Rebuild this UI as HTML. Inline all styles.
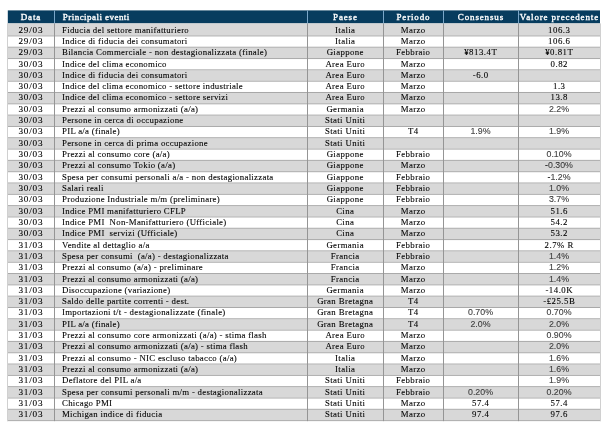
<!DOCTYPE html><html><head><meta charset="utf-8"><style>
html,body{margin:0;padding:0;background:#fff;width:606px;height:429px;overflow:hidden;}
body{position:relative;font-family:"Liberation Serif",serif;color:#000;}
.r{position:absolute;left:7.00px;width:593.00px;}
.c{position:absolute;top:0;white-space:pre;text-align:center;overflow:visible;}
.h{color:#fff;font-weight:normal;font-size:9.00px;letter-spacing:0.85px;-webkit-text-stroke:0.35px #fff}
.c.h{text-indent:0.85px}
.c.hev{letter-spacing:0.45px}
.d{font-size:8.80px;}
.pa{letter-spacing:0.35px;text-indent:0.35px}
.pe{letter-spacing:0.40px;text-indent:0.40px}
.g{background:#d8d8d8;}
.ev{font-size:8.80px;letter-spacing:0.28px}
.dt{letter-spacing:0.78px;font-size:9.20px;text-indent:0.78px}
.nm{letter-spacing:0.50px;text-indent:0.50px}
.c{filter:grayscale(1);}
.sn{font-family:"Liberation Sans",sans-serif;font-size:8.80px;color:#4a4a4a;letter-spacing:0.00px;text-indent:0.00px}
.d{-webkit-text-stroke:0.10px #000}
.hl{position:absolute;left:7.00px;width:593.00px;height:1px;background:#a8a8a8;}
.vl{position:absolute;width:1px;background:#959595;}
.hv{position:absolute;width:1px;background:#7aa6c8;}
#w{position:absolute;left:0;top:0;width:606px;height:429px;}
</style></head><body><div id="w">
<svg width="606" height="429" viewBox="0 0 606 429" style="position:absolute;left:0;top:0"><rect x="7.80" y="10.40" width="592.20" height="13.00" fill="#073c5e"/><rect x="7.00" y="23.40" width="593.00" height="12.02" fill="#d8d8d8"/><rect x="7.00" y="47.73" width="593.00" height="10.31" fill="#d8d8d8"/><rect x="7.00" y="70.36" width="593.00" height="10.31" fill="#d8d8d8"/><rect x="7.00" y="92.99" width="593.00" height="10.31" fill="#d8d8d8"/><rect x="7.00" y="115.62" width="593.00" height="10.31" fill="#d8d8d8"/><rect x="7.00" y="138.25" width="593.00" height="10.31" fill="#d8d8d8"/><rect x="7.00" y="160.88" width="593.00" height="10.31" fill="#d8d8d8"/><rect x="7.00" y="183.51" width="593.00" height="10.31" fill="#d8d8d8"/><rect x="7.00" y="206.14" width="593.00" height="10.31" fill="#d8d8d8"/><rect x="7.00" y="228.77" width="593.00" height="10.31" fill="#d8d8d8"/><rect x="7.00" y="251.40" width="593.00" height="10.31" fill="#d8d8d8"/><rect x="7.00" y="274.03" width="593.00" height="10.32" fill="#d8d8d8"/><rect x="7.00" y="296.66" width="593.00" height="10.31" fill="#d8d8d8"/><rect x="7.00" y="319.29" width="593.00" height="10.31" fill="#d8d8d8"/><rect x="7.00" y="341.92" width="593.00" height="10.31" fill="#d8d8d8"/><rect x="7.00" y="364.55" width="593.00" height="10.31" fill="#d8d8d8"/><rect x="7.00" y="387.18" width="593.00" height="10.31" fill="#d8d8d8"/><rect x="7.00" y="409.81" width="593.00" height="10.31" fill="#d8d8d8"/><rect x="7.00" y="35.41" width="594.00" height="1" fill="#a8a8a8"/><rect x="7.00" y="46.73" width="594.00" height="1" fill="#a8a8a8"/><rect x="7.00" y="58.05" width="594.00" height="1" fill="#a8a8a8"/><rect x="7.00" y="69.36" width="594.00" height="1" fill="#a8a8a8"/><rect x="7.00" y="80.67" width="594.00" height="1" fill="#a8a8a8"/><rect x="7.00" y="91.99" width="594.00" height="1" fill="#a8a8a8"/><rect x="7.00" y="103.31" width="594.00" height="1" fill="#a8a8a8"/><rect x="7.00" y="114.62" width="594.00" height="1" fill="#a8a8a8"/><rect x="7.00" y="125.94" width="594.00" height="1" fill="#a8a8a8"/><rect x="7.00" y="137.25" width="594.00" height="1" fill="#a8a8a8"/><rect x="7.00" y="148.56" width="594.00" height="1" fill="#a8a8a8"/><rect x="7.00" y="159.88" width="594.00" height="1" fill="#a8a8a8"/><rect x="7.00" y="171.19" width="594.00" height="1" fill="#a8a8a8"/><rect x="7.00" y="182.51" width="594.00" height="1" fill="#a8a8a8"/><rect x="7.00" y="193.82" width="594.00" height="1" fill="#a8a8a8"/><rect x="7.00" y="205.14" width="594.00" height="1" fill="#a8a8a8"/><rect x="7.00" y="216.45" width="594.00" height="1" fill="#a8a8a8"/><rect x="7.00" y="227.77" width="594.00" height="1" fill="#a8a8a8"/><rect x="7.00" y="239.08" width="594.00" height="1" fill="#a8a8a8"/><rect x="7.00" y="250.40" width="594.00" height="1" fill="#a8a8a8"/><rect x="7.00" y="261.71" width="594.00" height="1" fill="#a8a8a8"/><rect x="7.00" y="273.03" width="594.00" height="1" fill="#a8a8a8"/><rect x="7.00" y="284.35" width="594.00" height="1" fill="#a8a8a8"/><rect x="7.00" y="295.66" width="594.00" height="1" fill="#a8a8a8"/><rect x="7.00" y="306.98" width="594.00" height="1" fill="#a8a8a8"/><rect x="7.00" y="318.29" width="594.00" height="1" fill="#a8a8a8"/><rect x="7.00" y="329.61" width="594.00" height="1" fill="#a8a8a8"/><rect x="7.00" y="340.92" width="594.00" height="1" fill="#a8a8a8"/><rect x="7.00" y="352.24" width="594.00" height="1" fill="#a8a8a8"/><rect x="7.00" y="363.55" width="594.00" height="1" fill="#a8a8a8"/><rect x="7.00" y="374.87" width="594.00" height="1" fill="#a8a8a8"/><rect x="7.00" y="386.18" width="594.00" height="1" fill="#a8a8a8"/><rect x="7.00" y="397.50" width="594.00" height="1" fill="#a8a8a8"/><rect x="7.00" y="408.81" width="594.00" height="1" fill="#a8a8a8"/><rect x="7.00" y="420.12" width="594.00" height="1" fill="#a8a8a8"/><rect x="7.00" y="23.40" width="1" height="397.73" fill="#d0d0d0"/><rect x="54.00" y="23.40" width="1" height="397.73" fill="#959595"/><rect x="54.00" y="10.40" width="1" height="13.00" fill="#7aa6c8"/><rect x="307.00" y="23.40" width="1" height="397.73" fill="#959595"/><rect x="307.00" y="10.40" width="1" height="13.00" fill="#7aa6c8"/><rect x="383.00" y="23.40" width="1" height="397.73" fill="#959595"/><rect x="383.00" y="10.40" width="1" height="13.00" fill="#7aa6c8"/><rect x="443.00" y="23.40" width="1" height="397.73" fill="#959595"/><rect x="443.00" y="10.40" width="1" height="13.00" fill="#7aa6c8"/><rect x="518.00" y="23.40" width="1" height="397.73" fill="#959595"/><rect x="518.00" y="10.40" width="1" height="13.00" fill="#7aa6c8"/><rect x="600.00" y="23.40" width="1" height="397.73" fill="#d0d0d0"/></svg>
<div class="c h" style="left:7.00px;width:47.00px;top:11.00px;line-height:13.00px;height:13.00px">Data</div><div class="c h hev" style="left:54.00px;width:253.00px;text-align:left;padding-left:8.00px;box-sizing:border-box;top:11.00px;line-height:13.00px;height:13.00px">Principali eventi</div><div class="c h" style="left:307.00px;width:76.00px;top:11.00px;line-height:13.00px;height:13.00px">Paese</div><div class="c h" style="left:383.00px;width:60.00px;top:11.00px;line-height:13.00px;height:13.00px">Periodo</div><div class="c h" style="left:443.00px;width:75.00px;top:11.00px;line-height:13.00px;height:13.00px">Consensus</div><div class="c h" style="left:518.00px;width:82.00px;top:11.00px;line-height:13.00px;height:13.00px">Valore precedente</div>
<div class="c d dt" style="left:7.00px;width:47.00px;top:24.60px;line-height:11.31px;height:11.31px">29/03</div><div class="c d ev" style="left:54.00px;width:253.00px;text-align:left;padding-left:8.00px;box-sizing:border-box;top:24.60px;line-height:11.31px;height:11.31px">Fiducia del settore manifatturiero</div><div class="c d pa" style="left:307.00px;width:76.00px;top:24.60px;line-height:11.31px;height:11.31px">Italia</div><div class="c d pe" style="left:383.00px;width:60.00px;top:24.60px;line-height:11.31px;height:11.31px">Marzo</div><div class="c d nm" style="left:518.00px;width:82.00px;top:24.60px;line-height:11.31px;height:11.31px">106.3</div>
<div class="c d dt" style="left:7.00px;width:47.00px;top:35.91px;line-height:11.31px;height:11.31px">29/03</div><div class="c d ev" style="left:54.00px;width:253.00px;text-align:left;padding-left:8.00px;box-sizing:border-box;top:35.91px;line-height:11.31px;height:11.31px">Indice di fiducia dei consumatori</div><div class="c d pa" style="left:307.00px;width:76.00px;top:35.91px;line-height:11.31px;height:11.31px">Italia</div><div class="c d pe" style="left:383.00px;width:60.00px;top:35.91px;line-height:11.31px;height:11.31px">Marzo</div><div class="c d nm" style="left:518.00px;width:82.00px;top:35.91px;line-height:11.31px;height:11.31px">106.6</div>
<div class="c d dt" style="left:7.00px;width:47.00px;top:47.23px;line-height:11.31px;height:11.31px">29/03</div><div class="c d ev" style="left:54.00px;width:253.00px;text-align:left;padding-left:8.00px;box-sizing:border-box;top:47.23px;line-height:11.31px;height:11.31px">Bilancia Commerciale - non destagionalizzata (finale)</div><div class="c d pa" style="left:307.00px;width:76.00px;top:47.23px;line-height:11.31px;height:11.31px">Giappone</div><div class="c d pe" style="left:383.00px;width:60.00px;top:47.23px;line-height:11.31px;height:11.31px">Febbraio</div><div class="c d nm" style="left:443.00px;width:75.00px;top:47.23px;line-height:11.31px;height:11.31px">¥813.4T</div><div class="c d nm" style="left:518.00px;width:82.00px;top:47.23px;line-height:11.31px;height:11.31px">¥0.81T</div>
<div class="c d dt" style="left:7.00px;width:47.00px;top:58.55px;line-height:11.31px;height:11.31px">30/03</div><div class="c d ev" style="left:54.00px;width:253.00px;text-align:left;padding-left:8.00px;box-sizing:border-box;top:58.55px;line-height:11.31px;height:11.31px">Indice del clima economico</div><div class="c d pa" style="left:307.00px;width:76.00px;top:58.55px;line-height:11.31px;height:11.31px">Area Euro</div><div class="c d pe" style="left:383.00px;width:60.00px;top:58.55px;line-height:11.31px;height:11.31px">Marzo</div><div class="c d nm" style="left:518.00px;width:82.00px;top:58.55px;line-height:11.31px;height:11.31px">0.82</div>
<div class="c d dt" style="left:7.00px;width:47.00px;top:69.86px;line-height:11.31px;height:11.31px">30/03</div><div class="c d ev" style="left:54.00px;width:253.00px;text-align:left;padding-left:8.00px;box-sizing:border-box;top:69.86px;line-height:11.31px;height:11.31px">Indice di fiducia dei consumatori</div><div class="c d pa" style="left:307.00px;width:76.00px;top:69.86px;line-height:11.31px;height:11.31px">Area Euro</div><div class="c d pe" style="left:383.00px;width:60.00px;top:69.86px;line-height:11.31px;height:11.31px">Marzo</div><div class="c d nm" style="left:443.00px;width:75.00px;top:69.86px;line-height:11.31px;height:11.31px">-6.0</div>
<div class="c d dt" style="left:7.00px;width:47.00px;top:81.17px;line-height:11.31px;height:11.31px">30/03</div><div class="c d ev" style="left:54.00px;width:253.00px;text-align:left;padding-left:8.00px;box-sizing:border-box;top:81.17px;line-height:11.31px;height:11.31px">Indice del clima economico - settore industriale</div><div class="c d pa" style="left:307.00px;width:76.00px;top:81.17px;line-height:11.31px;height:11.31px">Area Euro</div><div class="c d pe" style="left:383.00px;width:60.00px;top:81.17px;line-height:11.31px;height:11.31px">Marzo</div><div class="c d nm" style="left:518.00px;width:82.00px;top:81.17px;line-height:11.31px;height:11.31px">1.3</div>
<div class="c d dt" style="left:7.00px;width:47.00px;top:92.49px;line-height:11.31px;height:11.31px">30/03</div><div class="c d ev" style="left:54.00px;width:253.00px;text-align:left;padding-left:8.00px;box-sizing:border-box;top:92.49px;line-height:11.31px;height:11.31px">Indice del clima economico - settore servizi</div><div class="c d pa" style="left:307.00px;width:76.00px;top:92.49px;line-height:11.31px;height:11.31px">Area Euro</div><div class="c d pe" style="left:383.00px;width:60.00px;top:92.49px;line-height:11.31px;height:11.31px">Marzo</div><div class="c d nm" style="left:518.00px;width:82.00px;top:92.49px;line-height:11.31px;height:11.31px">13.8</div>
<div class="c d dt" style="left:7.00px;width:47.00px;top:103.81px;line-height:11.31px;height:11.31px">30/03</div><div class="c d ev" style="left:54.00px;width:253.00px;text-align:left;padding-left:8.00px;box-sizing:border-box;top:103.81px;line-height:11.31px;height:11.31px">Prezzi al consumo armonizzati (a/a)</div><div class="c d pa" style="left:307.00px;width:76.00px;top:103.81px;line-height:11.31px;height:11.31px">Germania</div><div class="c d pe" style="left:383.00px;width:60.00px;top:103.81px;line-height:11.31px;height:11.31px">Marzo</div><div class="c d sn" style="left:518.00px;width:82.00px;top:103.81px;line-height:11.31px;height:11.31px">2.2%</div>
<div class="c d dt" style="left:7.00px;width:47.00px;top:115.12px;line-height:11.31px;height:11.31px">30/03</div><div class="c d ev" style="left:54.00px;width:253.00px;text-align:left;padding-left:8.00px;box-sizing:border-box;top:115.12px;line-height:11.31px;height:11.31px">Persone in cerca di occupazione</div><div class="c d pa" style="left:307.00px;width:76.00px;top:115.12px;line-height:11.31px;height:11.31px">Stati Uniti</div>
<div class="c d dt" style="left:7.00px;width:47.00px;top:126.44px;line-height:11.31px;height:11.31px">30/03</div><div class="c d ev" style="left:54.00px;width:253.00px;text-align:left;padding-left:8.00px;box-sizing:border-box;top:126.44px;line-height:11.31px;height:11.31px">PIL a/a (finale)</div><div class="c d pa" style="left:307.00px;width:76.00px;top:126.44px;line-height:11.31px;height:11.31px">Stati Uniti</div><div class="c d pe" style="left:383.00px;width:60.00px;top:126.44px;line-height:11.31px;height:11.31px">T4</div><div class="c d sn" style="left:443.00px;width:75.00px;top:126.44px;line-height:11.31px;height:11.31px">1.9%</div><div class="c d sn" style="left:518.00px;width:82.00px;top:126.44px;line-height:11.31px;height:11.31px">1.9%</div>
<div class="c d dt" style="left:7.00px;width:47.00px;top:137.75px;line-height:11.31px;height:11.31px">30/03</div><div class="c d ev" style="left:54.00px;width:253.00px;text-align:left;padding-left:8.00px;box-sizing:border-box;top:137.75px;line-height:11.31px;height:11.31px">Persone in cerca di prima occupazione</div><div class="c d pa" style="left:307.00px;width:76.00px;top:137.75px;line-height:11.31px;height:11.31px">Stati Uniti</div>
<div class="c d dt" style="left:7.00px;width:47.00px;top:149.06px;line-height:11.31px;height:11.31px">30/03</div><div class="c d ev" style="left:54.00px;width:253.00px;text-align:left;padding-left:8.00px;box-sizing:border-box;top:149.06px;line-height:11.31px;height:11.31px">Prezzi al consumo core (a/a)</div><div class="c d pa" style="left:307.00px;width:76.00px;top:149.06px;line-height:11.31px;height:11.31px">Giappone</div><div class="c d pe" style="left:383.00px;width:60.00px;top:149.06px;line-height:11.31px;height:11.31px">Febbraio</div><div class="c d sn" style="left:518.00px;width:82.00px;top:149.06px;line-height:11.31px;height:11.31px">0.10%</div>
<div class="c d dt" style="left:7.00px;width:47.00px;top:160.38px;line-height:11.31px;height:11.31px">30/03</div><div class="c d ev" style="left:54.00px;width:253.00px;text-align:left;padding-left:8.00px;box-sizing:border-box;top:160.38px;line-height:11.31px;height:11.31px">Prezzi al consumo Tokio (a/a)</div><div class="c d pa" style="left:307.00px;width:76.00px;top:160.38px;line-height:11.31px;height:11.31px">Giappone</div><div class="c d pe" style="left:383.00px;width:60.00px;top:160.38px;line-height:11.31px;height:11.31px">Marzo</div><div class="c d sn" style="left:518.00px;width:82.00px;top:160.38px;line-height:11.31px;height:11.31px">-0.30%</div>
<div class="c d dt" style="left:7.00px;width:47.00px;top:171.69px;line-height:11.31px;height:11.31px">30/03</div><div class="c d ev" style="left:54.00px;width:253.00px;text-align:left;padding-left:8.00px;box-sizing:border-box;top:171.69px;line-height:11.31px;height:11.31px">Spesa per consumi personali a/a - non destagionalizzata</div><div class="c d pa" style="left:307.00px;width:76.00px;top:171.69px;line-height:11.31px;height:11.31px">Giappone</div><div class="c d pe" style="left:383.00px;width:60.00px;top:171.69px;line-height:11.31px;height:11.31px">Febbraio</div><div class="c d sn" style="left:518.00px;width:82.00px;top:171.69px;line-height:11.31px;height:11.31px">-1.2%</div>
<div class="c d dt" style="left:7.00px;width:47.00px;top:183.01px;line-height:11.31px;height:11.31px">30/03</div><div class="c d ev" style="left:54.00px;width:253.00px;text-align:left;padding-left:8.00px;box-sizing:border-box;top:183.01px;line-height:11.31px;height:11.31px">Salari reali</div><div class="c d pa" style="left:307.00px;width:76.00px;top:183.01px;line-height:11.31px;height:11.31px">Giappone</div><div class="c d pe" style="left:383.00px;width:60.00px;top:183.01px;line-height:11.31px;height:11.31px">Febbraio</div><div class="c d sn" style="left:518.00px;width:82.00px;top:183.01px;line-height:11.31px;height:11.31px">1.0%</div>
<div class="c d dt" style="left:7.00px;width:47.00px;top:194.32px;line-height:11.31px;height:11.31px">30/03</div><div class="c d ev" style="left:54.00px;width:253.00px;text-align:left;padding-left:8.00px;box-sizing:border-box;top:194.32px;line-height:11.31px;height:11.31px">Produzione Industriale m/m (preliminare)</div><div class="c d pa" style="left:307.00px;width:76.00px;top:194.32px;line-height:11.31px;height:11.31px">Giappone</div><div class="c d pe" style="left:383.00px;width:60.00px;top:194.32px;line-height:11.31px;height:11.31px">Febbraio</div><div class="c d sn" style="left:518.00px;width:82.00px;top:194.32px;line-height:11.31px;height:11.31px">3.7%</div>
<div class="c d dt" style="left:7.00px;width:47.00px;top:205.64px;line-height:11.31px;height:11.31px">30/03</div><div class="c d ev" style="left:54.00px;width:253.00px;text-align:left;padding-left:8.00px;box-sizing:border-box;top:205.64px;line-height:11.31px;height:11.31px">Indice PMI manifatturiero CFLP</div><div class="c d pa" style="left:307.00px;width:76.00px;top:205.64px;line-height:11.31px;height:11.31px">Cina</div><div class="c d pe" style="left:383.00px;width:60.00px;top:205.64px;line-height:11.31px;height:11.31px">Marzo</div><div class="c d nm" style="left:518.00px;width:82.00px;top:205.64px;line-height:11.31px;height:11.31px">51.6</div>
<div class="c d dt" style="left:7.00px;width:47.00px;top:216.95px;line-height:11.31px;height:11.31px">30/03</div><div class="c d ev" style="left:54.00px;width:253.00px;text-align:left;padding-left:8.00px;box-sizing:border-box;top:216.95px;line-height:11.31px;height:11.31px">Indice PMI  Non-Manifatturiero (Ufficiale)</div><div class="c d pa" style="left:307.00px;width:76.00px;top:216.95px;line-height:11.31px;height:11.31px">Cina</div><div class="c d pe" style="left:383.00px;width:60.00px;top:216.95px;line-height:11.31px;height:11.31px">Marzo</div><div class="c d nm" style="left:518.00px;width:82.00px;top:216.95px;line-height:11.31px;height:11.31px">54.2</div>
<div class="c d dt" style="left:7.00px;width:47.00px;top:228.27px;line-height:11.31px;height:11.31px">30/03</div><div class="c d ev" style="left:54.00px;width:253.00px;text-align:left;padding-left:8.00px;box-sizing:border-box;top:228.27px;line-height:11.31px;height:11.31px">Indice PMI  servizi (Ufficiale)</div><div class="c d pa" style="left:307.00px;width:76.00px;top:228.27px;line-height:11.31px;height:11.31px">Cina</div><div class="c d pe" style="left:383.00px;width:60.00px;top:228.27px;line-height:11.31px;height:11.31px">Marzo</div><div class="c d nm" style="left:518.00px;width:82.00px;top:228.27px;line-height:11.31px;height:11.31px">53.2</div>
<div class="c d dt" style="left:7.00px;width:47.00px;top:239.58px;line-height:11.31px;height:11.31px">31/03</div><div class="c d ev" style="left:54.00px;width:253.00px;text-align:left;padding-left:8.00px;box-sizing:border-box;top:239.58px;line-height:11.31px;height:11.31px">Vendite al dettaglio a/a</div><div class="c d pa" style="left:307.00px;width:76.00px;top:239.58px;line-height:11.31px;height:11.31px">Germania</div><div class="c d pe" style="left:383.00px;width:60.00px;top:239.58px;line-height:11.31px;height:11.31px">Febbraio</div><div class="c d nm" style="left:518.00px;width:82.00px;top:239.58px;line-height:11.31px;height:11.31px">2.7% R</div>
<div class="c d dt" style="left:7.00px;width:47.00px;top:250.90px;line-height:11.31px;height:11.31px">31/03</div><div class="c d ev" style="left:54.00px;width:253.00px;text-align:left;padding-left:8.00px;box-sizing:border-box;top:250.90px;line-height:11.31px;height:11.31px">Spesa per consumi  (a/a) - destagionalizzata</div><div class="c d pa" style="left:307.00px;width:76.00px;top:250.90px;line-height:11.31px;height:11.31px">Francia</div><div class="c d pe" style="left:383.00px;width:60.00px;top:250.90px;line-height:11.31px;height:11.31px">Febbraio</div><div class="c d sn" style="left:518.00px;width:82.00px;top:250.90px;line-height:11.31px;height:11.31px">1.4%</div>
<div class="c d dt" style="left:7.00px;width:47.00px;top:262.21px;line-height:11.31px;height:11.31px">31/03</div><div class="c d ev" style="left:54.00px;width:253.00px;text-align:left;padding-left:8.00px;box-sizing:border-box;top:262.21px;line-height:11.31px;height:11.31px">Prezzi al consumo (a/a) - preliminare</div><div class="c d pa" style="left:307.00px;width:76.00px;top:262.21px;line-height:11.31px;height:11.31px">Francia</div><div class="c d pe" style="left:383.00px;width:60.00px;top:262.21px;line-height:11.31px;height:11.31px">Marzo</div><div class="c d sn" style="left:518.00px;width:82.00px;top:262.21px;line-height:11.31px;height:11.31px">1.2%</div>
<div class="c d dt" style="left:7.00px;width:47.00px;top:273.53px;line-height:11.31px;height:11.31px">31/03</div><div class="c d ev" style="left:54.00px;width:253.00px;text-align:left;padding-left:8.00px;box-sizing:border-box;top:273.53px;line-height:11.31px;height:11.31px">Prezzi al consumo armonizzati (a/a)</div><div class="c d pa" style="left:307.00px;width:76.00px;top:273.53px;line-height:11.31px;height:11.31px">Francia</div><div class="c d pe" style="left:383.00px;width:60.00px;top:273.53px;line-height:11.31px;height:11.31px">Marzo</div><div class="c d sn" style="left:518.00px;width:82.00px;top:273.53px;line-height:11.31px;height:11.31px">1.4%</div>
<div class="c d dt" style="left:7.00px;width:47.00px;top:284.85px;line-height:11.31px;height:11.31px">31/03</div><div class="c d ev" style="left:54.00px;width:253.00px;text-align:left;padding-left:8.00px;box-sizing:border-box;top:284.85px;line-height:11.31px;height:11.31px">Disoccupazione (variazione)</div><div class="c d pa" style="left:307.00px;width:76.00px;top:284.85px;line-height:11.31px;height:11.31px">Germania</div><div class="c d pe" style="left:383.00px;width:60.00px;top:284.85px;line-height:11.31px;height:11.31px">Marzo</div><div class="c d nm" style="left:518.00px;width:82.00px;top:284.85px;line-height:11.31px;height:11.31px">-14.0K</div>
<div class="c d dt" style="left:7.00px;width:47.00px;top:296.16px;line-height:11.31px;height:11.31px">31/03</div><div class="c d ev" style="left:54.00px;width:253.00px;text-align:left;padding-left:8.00px;box-sizing:border-box;top:296.16px;line-height:11.31px;height:11.31px">Saldo delle partite correnti - dest.</div><div class="c d pa" style="left:307.00px;width:76.00px;top:296.16px;line-height:11.31px;height:11.31px">Gran Bretagna</div><div class="c d pe" style="left:383.00px;width:60.00px;top:296.16px;line-height:11.31px;height:11.31px">T4</div><div class="c d nm" style="left:518.00px;width:82.00px;top:296.16px;line-height:11.31px;height:11.31px">-£25.5B</div>
<div class="c d dt" style="left:7.00px;width:47.00px;top:307.48px;line-height:11.31px;height:11.31px">31/03</div><div class="c d ev" style="left:54.00px;width:253.00px;text-align:left;padding-left:8.00px;box-sizing:border-box;top:307.48px;line-height:11.31px;height:11.31px">Importazioni t/t - destagionalizzate (finale)</div><div class="c d pa" style="left:307.00px;width:76.00px;top:307.48px;line-height:11.31px;height:11.31px">Gran Bretagna</div><div class="c d pe" style="left:383.00px;width:60.00px;top:307.48px;line-height:11.31px;height:11.31px">T4</div><div class="c d sn" style="left:443.00px;width:75.00px;top:307.48px;line-height:11.31px;height:11.31px">0.70%</div><div class="c d sn" style="left:518.00px;width:82.00px;top:307.48px;line-height:11.31px;height:11.31px">0.70%</div>
<div class="c d dt" style="left:7.00px;width:47.00px;top:318.79px;line-height:11.31px;height:11.31px">31/03</div><div class="c d ev" style="left:54.00px;width:253.00px;text-align:left;padding-left:8.00px;box-sizing:border-box;top:318.79px;line-height:11.31px;height:11.31px">PIL a/a (finale)</div><div class="c d pa" style="left:307.00px;width:76.00px;top:318.79px;line-height:11.31px;height:11.31px">Gran Bretagna</div><div class="c d pe" style="left:383.00px;width:60.00px;top:318.79px;line-height:11.31px;height:11.31px">T4</div><div class="c d sn" style="left:443.00px;width:75.00px;top:318.79px;line-height:11.31px;height:11.31px">2.0%</div><div class="c d sn" style="left:518.00px;width:82.00px;top:318.79px;line-height:11.31px;height:11.31px">2.0%</div>
<div class="c d dt" style="left:7.00px;width:47.00px;top:330.11px;line-height:11.31px;height:11.31px">31/03</div><div class="c d ev" style="left:54.00px;width:253.00px;text-align:left;padding-left:8.00px;box-sizing:border-box;top:330.11px;line-height:11.31px;height:11.31px">Prezzi al consumo core armonizzati (a/a) - stima flash</div><div class="c d pa" style="left:307.00px;width:76.00px;top:330.11px;line-height:11.31px;height:11.31px">Area Euro</div><div class="c d pe" style="left:383.00px;width:60.00px;top:330.11px;line-height:11.31px;height:11.31px">Marzo</div><div class="c d sn" style="left:518.00px;width:82.00px;top:330.11px;line-height:11.31px;height:11.31px">0.90%</div>
<div class="c d dt" style="left:7.00px;width:47.00px;top:341.42px;line-height:11.31px;height:11.31px">31/03</div><div class="c d ev" style="left:54.00px;width:253.00px;text-align:left;padding-left:8.00px;box-sizing:border-box;top:341.42px;line-height:11.31px;height:11.31px">Prezzi al consumo armonizzati (a/a) - stima flash</div><div class="c d pa" style="left:307.00px;width:76.00px;top:341.42px;line-height:11.31px;height:11.31px">Area Euro</div><div class="c d pe" style="left:383.00px;width:60.00px;top:341.42px;line-height:11.31px;height:11.31px">Marzo</div><div class="c d sn" style="left:518.00px;width:82.00px;top:341.42px;line-height:11.31px;height:11.31px">2.0%</div>
<div class="c d dt" style="left:7.00px;width:47.00px;top:352.74px;line-height:11.31px;height:11.31px">31/03</div><div class="c d ev" style="left:54.00px;width:253.00px;text-align:left;padding-left:8.00px;box-sizing:border-box;top:352.74px;line-height:11.31px;height:11.31px">Prezzi al consumo - NIC escluso tabacco (a/a)</div><div class="c d pa" style="left:307.00px;width:76.00px;top:352.74px;line-height:11.31px;height:11.31px">Italia</div><div class="c d pe" style="left:383.00px;width:60.00px;top:352.74px;line-height:11.31px;height:11.31px">Marzo</div><div class="c d sn" style="left:518.00px;width:82.00px;top:352.74px;line-height:11.31px;height:11.31px">1.6%</div>
<div class="c d dt" style="left:7.00px;width:47.00px;top:364.05px;line-height:11.31px;height:11.31px">31/03</div><div class="c d ev" style="left:54.00px;width:253.00px;text-align:left;padding-left:8.00px;box-sizing:border-box;top:364.05px;line-height:11.31px;height:11.31px">Prezzi al consumo armonizzati (a/a)</div><div class="c d pa" style="left:307.00px;width:76.00px;top:364.05px;line-height:11.31px;height:11.31px">Italia</div><div class="c d pe" style="left:383.00px;width:60.00px;top:364.05px;line-height:11.31px;height:11.31px">Marzo</div><div class="c d sn" style="left:518.00px;width:82.00px;top:364.05px;line-height:11.31px;height:11.31px">1.6%</div>
<div class="c d dt" style="left:7.00px;width:47.00px;top:375.37px;line-height:11.31px;height:11.31px">31/03</div><div class="c d ev" style="left:54.00px;width:253.00px;text-align:left;padding-left:8.00px;box-sizing:border-box;top:375.37px;line-height:11.31px;height:11.31px">Deflatore del PIL a/a</div><div class="c d pa" style="left:307.00px;width:76.00px;top:375.37px;line-height:11.31px;height:11.31px">Stati Uniti</div><div class="c d pe" style="left:383.00px;width:60.00px;top:375.37px;line-height:11.31px;height:11.31px">Febbraio</div><div class="c d sn" style="left:518.00px;width:82.00px;top:375.37px;line-height:11.31px;height:11.31px">1.9%</div>
<div class="c d dt" style="left:7.00px;width:47.00px;top:386.68px;line-height:11.31px;height:11.31px">31/03</div><div class="c d ev" style="left:54.00px;width:253.00px;text-align:left;padding-left:8.00px;box-sizing:border-box;top:386.68px;line-height:11.31px;height:11.31px">Spesa per consumi personali m/m - destagionalizzata</div><div class="c d pa" style="left:307.00px;width:76.00px;top:386.68px;line-height:11.31px;height:11.31px">Stati Uniti</div><div class="c d pe" style="left:383.00px;width:60.00px;top:386.68px;line-height:11.31px;height:11.31px">Febbraio</div><div class="c d sn" style="left:443.00px;width:75.00px;top:386.68px;line-height:11.31px;height:11.31px">0.20%</div><div class="c d sn" style="left:518.00px;width:82.00px;top:386.68px;line-height:11.31px;height:11.31px">0.20%</div>
<div class="c d dt" style="left:7.00px;width:47.00px;top:398.00px;line-height:11.31px;height:11.31px">31/03</div><div class="c d ev" style="left:54.00px;width:253.00px;text-align:left;padding-left:8.00px;box-sizing:border-box;top:398.00px;line-height:11.31px;height:11.31px">Chicago PMI</div><div class="c d pa" style="left:307.00px;width:76.00px;top:398.00px;line-height:11.31px;height:11.31px">Stati Uniti</div><div class="c d pe" style="left:383.00px;width:60.00px;top:398.00px;line-height:11.31px;height:11.31px">Marzo</div><div class="c d nm" style="left:443.00px;width:75.00px;top:398.00px;line-height:11.31px;height:11.31px">57.4</div><div class="c d nm" style="left:518.00px;width:82.00px;top:398.00px;line-height:11.31px;height:11.31px">57.4</div>
<div class="c d dt" style="left:7.00px;width:47.00px;top:409.31px;line-height:11.31px;height:11.31px">31/03</div><div class="c d ev" style="left:54.00px;width:253.00px;text-align:left;padding-left:8.00px;box-sizing:border-box;top:409.31px;line-height:11.31px;height:11.31px">Michigan indice di fiducia</div><div class="c d pa" style="left:307.00px;width:76.00px;top:409.31px;line-height:11.31px;height:11.31px">Stati Uniti</div><div class="c d pe" style="left:383.00px;width:60.00px;top:409.31px;line-height:11.31px;height:11.31px">Marzo</div><div class="c d nm" style="left:443.00px;width:75.00px;top:409.31px;line-height:11.31px;height:11.31px">97.4</div><div class="c d nm" style="left:518.00px;width:82.00px;top:409.31px;line-height:11.31px;height:11.31px">97.6</div>
</div></body></html>
